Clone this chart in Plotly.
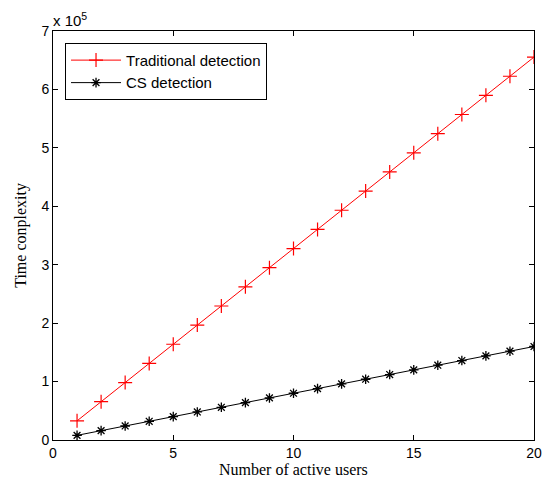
import plotly.graph_objects as go

users = list(range(1, 21))
traditional = [32768, 65536, 98304, 131072, 163840, 196608, 229376, 262144, 294912, 327680,
               360448, 393216, 425984, 458752, 491520, 524288, 557056, 589824, 622592, 655360]
cs = [8000, 16000, 24000, 32000, 40000, 48000, 56000, 64000, 72000, 80000,
      88000, 96000, 104000, 112000, 120000, 128000, 136000, 144000, 152000, 160000]
y_tickvals = [0, 100000, 200000, 300000, 400000, 500000, 600000, 700000]
y_ticktext = ["0", "1", "2", "3", "4", "5", "6", "7"]
x_tickvals = [0, 5, 10, 15, 20]

fig = go.Figure()
fig.add_trace(go.Scatter(x=users, y=traditional, mode="lines+markers", name="Traditional detection",
                         line=dict(color="red", width=1),
                         marker=dict(symbol="cross-thin-open", size=10, color="red",
                                     line=dict(color="red", width=1.2))))
fig.add_trace(go.Scatter(x=users, y=cs, mode="lines+markers", name="CS detection",
                         line=dict(color="black", width=1),
                         marker=dict(symbol="asterisk-open", size=8, color="black",
                                     line=dict(color="black", width=1.3))))

axis_common = dict(showgrid=False, zeroline=False, showline=True, linecolor="black", linewidth=1,
                   mirror="allticks", ticks="inside", ticklen=5, tickcolor="black",
                   ticklabeloverflow="allow", automargin=False,
                   tickfont=dict(family="Liberation Sans, Arial", size=14, color="black"))
fig.update_xaxes(range=[0, 20], tickvals=x_tickvals, **axis_common)
fig.update_yaxes(range=[0, 700000], tickvals=y_tickvals, ticktext=y_ticktext, **axis_common)

fig.add_annotation(text="Number of active users", xref="paper", yref="paper",
                   x=0.5, y=-0.0954, xanchor="center", yanchor="bottom", showarrow=False,
                   borderpad=0, font=dict(family="Liberation Serif, Times New Roman", size=16, color="black"))
fig.add_annotation(text="Time conplexity", xref="paper", yref="paper", textangle=-90,
                   x=-0.068, y=0.5, xanchor="center", yanchor="middle", showarrow=False,
                   borderpad=0, font=dict(family="Liberation Serif, Times New Roman", size=16, color="black"))
fig.add_annotation(text="x 10<sup>5</sup>", xref="paper", yref="paper", x=-0.005, y=1.0,
                   xanchor="left", yanchor="bottom", showarrow=False,
                   font=dict(family="Liberation Sans, Arial", size=15, color="black"))

fig.update_layout(width=544, height=479, margin=dict(l=53, r=10, t=31, b=39),
                  paper_bgcolor="white", plot_bgcolor="white",
                  legend=dict(x=0.025, y=0.971, xanchor="left", yanchor="top",
                              bgcolor="white", bordercolor="black", borderwidth=1,
                              font=dict(family="Liberation Sans, Arial", size=15, color="black"),
                              itemwidth=50, tracegroupgap=0))
fig.write_html("out.html")
